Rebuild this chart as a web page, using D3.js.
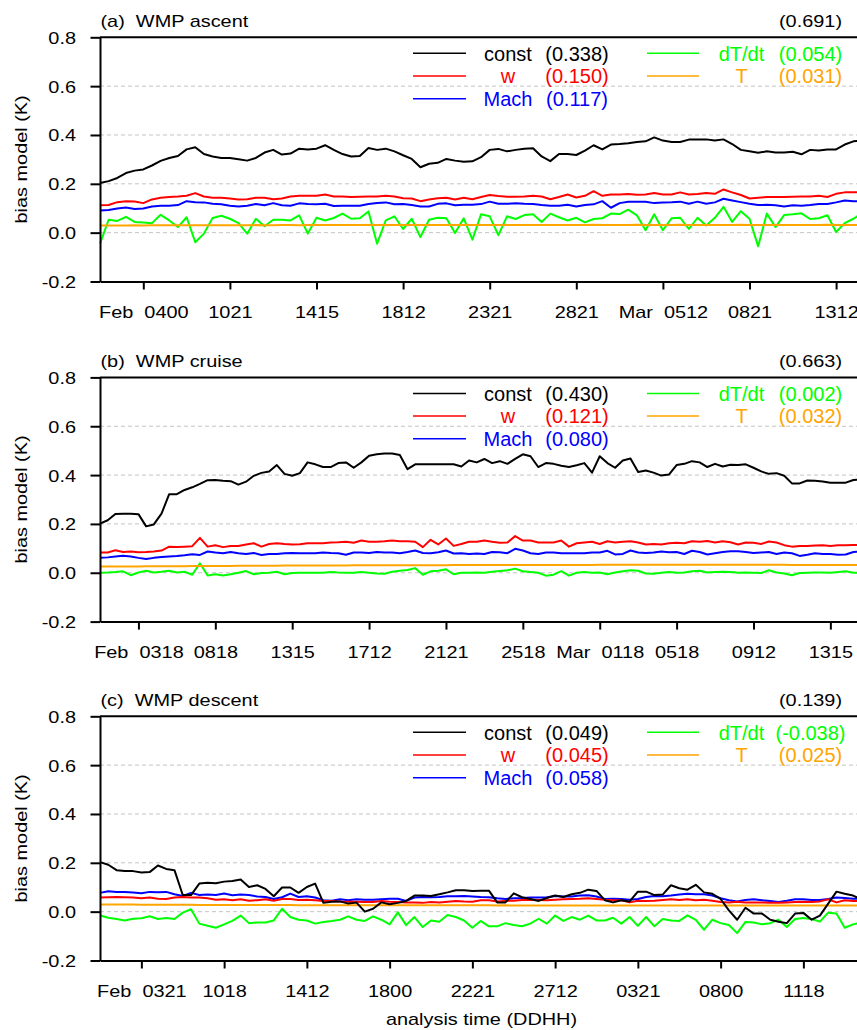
<!DOCTYPE html>
<html><head><meta charset="utf-8">
<script src="https://cdn.jsdelivr.net/npm/d3@7"></script>
<style>body{margin:0;background:#fff}svg{display:block}</style>
</head><body><svg id="chart" width="857" height="1030"></svg>
<script>
// ---------- shared ----------
const seriesNames = ["const", "w", "Mach", "dT/dt", "T"];
const seriesColors = ["#000000", "#ff0000", "#0000ff", "#00ff00", "#ffa500"];
const yTicks = [-0.2, 0, 0.2, 0.4, 0.6, 0.8];
const gridValues = [0, 0.2, 0.4, 0.6];
const xAxisTitle = "analysis time (DDHH)";
const yAxisTitle = "bias model (K)";

// ---------- panel (a) WMP ascent ----------
const titleA = "(a)  WMP ascent";
const totalA = "(0.691)";
const legendValuesA = ["(0.338)", "(0.150)", "(0.117)", "(0.054)", "(0.031)"];
const tickIndexA = [10, 30, 50, 70, 90, 110, 130, 150, 170];
const tickLabelsA = ["Feb  0400", "1021", "1415", "1812", "2321", "2821", "Mar  0512", "0821", "1312"];
const constA = [0.203,0.211,0.224,0.244,0.254,0.259,0.275,0.294,0.306,0.314,0.341,0.350,0.322,0.312,0.306,0.306,0.301,0.295,0.306,0.328,0.339,0.320,0.324,0.344,0.341,0.344,0.358,0.339,0.322,0.312,0.314,0.347,0.339,0.344,0.333,0.317,0.302,0.268,0.282,0.286,0.302,0.295,0.290,0.292,
 0.309,0.339,0.343,0.333,0.339,0.344,0.346,0.312,0.293,0.322,0.322,0.318,0.336,0.358,0.341,0.361,0.363,0.366,0.371,0.374,0.390,0.377,0.371,0.371,0.381,0.382,0.382,0.377,0.382,0.363,0.339,0.333,0.327,0.333,0.328,0.328,0.331,0.321,0.339,0.336,0.341,0.341,0.361,0.374,0.378];
const wA = [0.112,0.113,0.125,0.129,0.128,0.121,0.136,0.143,0.146,0.148,0.151,0.162,0.148,0.143,0.143,0.140,0.136,0.137,0.143,0.143,0.137,0.140,0.148,0.151,0.151,0.151,0.156,0.148,0.148,0.146,0.147,0.148,0.148,0.151,0.148,0.141,0.140,0.129,0.136,0.141,0.143,0.136,0.143,0.137,
 0.146,0.154,0.150,0.147,0.147,0.148,0.151,0.148,0.137,0.146,0.156,0.144,0.151,0.170,0.151,0.156,0.156,0.158,0.155,0.156,0.162,0.156,0.156,0.165,0.156,0.158,0.162,0.159,0.177,0.165,0.154,0.140,0.143,0.146,0.146,0.146,0.147,0.148,0.148,0.151,0.146,0.159,0.165,0.165,0.166];
const machA = [0.091,0.093,0.099,0.103,0.097,0.099,0.107,0.110,0.110,0.113,0.129,0.125,0.124,0.118,0.116,0.110,0.107,0.110,0.117,0.112,0.121,0.112,0.110,0.120,0.117,0.116,0.118,0.109,0.110,0.110,0.110,0.117,0.121,0.124,0.116,0.117,0.113,0.107,0.107,0.118,0.120,0.112,0.114,0.114,
 0.117,0.127,0.118,0.118,0.120,0.118,0.117,0.113,0.110,0.110,0.114,0.107,0.113,0.116,0.129,0.102,0.121,0.127,0.127,0.127,0.121,0.124,0.125,0.127,0.118,0.127,0.118,0.124,0.139,0.132,0.125,0.118,0.113,0.114,0.112,0.107,0.112,0.110,0.113,0.117,0.117,0.124,0.132,0.129,0.128];
const dtA = [-0.045,0.053,0.048,0.065,0.044,0.042,0.039,0.073,0.050,0.023,0.063,-0.039,-0.004,0.060,0.069,0.057,0.039,-0.004,0.057,0.026,0.053,0.053,0.050,0.071,-0.004,0.061,0.050,0.060,0.078,0.057,0.059,0.087,-0.045,0.050,0.067,0.015,0.057,-0.018,0.053,0.061,0.059,-0.001,0.059,-0.029,
 0.075,0.067,-0.010,0.067,0.056,0.072,0.075,0.044,0.078,0.063,0.050,0.061,0.042,0.056,0.059,0.078,0.076,0.094,0.071,0.010,0.075,0.010,0.059,0.061,0.015,0.061,0.029,0.061,0.106,0.044,0.088,0.057,-0.056,0.078,0.023,0.072,0.075,0.079,0.056,0.059,0.071,0.003,0.039,0.057,0.079];
const tA = [0.029,0.029,0.029,0.029,0.030,0.029,0.030,0.030,0.030,0.030,0.030,0.030,0.030,0.030,0.030,0.030,0.030,0.030,0.031,0.030,
 0.030,0.031,0.031,0.030,0.031,0.031,0.031,0.031,0.031,0.031,0.031,0.031,0.031,0.031,0.031,0.031,0.031,0.031,0.031,0.031,
 0.031,0.031,0.031,0.031,0.031,0.031,0.031,0.031,0.031,0.031,0.031,0.031,0.031,0.031,0.031,0.031,0.031,0.032,0.031,0.031,
 0.031,0.031,0.032,0.031,0.031,0.031,0.031,0.032,0.031,0.031,0.031,0.031,0.031,0.031,0.032,0.031,0.031,0.031,0.031,0.031,
 0.031,0.031,0.031,0.031,0.032,0.031,0.031,0.031,0.031];

// ---------- panel (b) WMP cruise ----------
const titleB = "(b)  WMP cruise";
const totalB = "(0.663)";
const legendValuesB = ["(0.430)", "(0.121)", "(0.080)", "(0.002)", "(0.032)"];
const tickIndexB = [10, 30, 50, 70, 90, 110, 130, 150, 170, 190];
const tickLabelsB = ["Feb  0318", "0818", "1315", "1712", "2121", "2518", "Mar  0118", "0518", "0912", "1315"];
const constB = [0.201,0.215,0.241,0.242,0.242,0.240,0.190,0.198,0.242,0.322,0.322,0.339,0.350,0.364,0.379,0.380,0.377,0.375,0.361,0.373,0.397,0.409,0.415,0.441,0.405,0.397,0.408,0.452,0.444,0.433,0.433,0.449,0.452,0.430,0.452,0.479,0.485,0.488,0.488,0.482,0.424,0.444,0.444,0.444,0.444,0.444,0.444,0.435,0.460,0.452,
 0.466,0.449,0.457,0.446,0.466,0.485,0.477,0.433,0.449,0.446,0.438,0.433,0.440,0.449,0.410,0.477,0.449,0.430,0.460,0.468,0.413,0.419,0.410,0.398,0.402,0.441,0.446,0.457,0.452,0.433,0.446,0.435,0.442,0.441,0.444,0.430,0.415,0.405,0.408,0.397,0.366,0.366,0.378,0.377,0.374,0.369,0.369,0.369,0.380,0.381];
const wB = [0.083,0.083,0.092,0.085,0.087,0.084,0.085,0.087,0.091,0.107,0.105,0.107,0.109,0.143,0.107,0.113,0.105,0.110,0.110,0.116,0.121,0.107,0.118,0.121,0.118,0.116,0.117,0.121,0.121,0.121,0.124,0.125,0.127,0.123,0.132,0.127,0.127,0.129,0.132,0.129,0.129,0.127,0.105,0.135,0.116,0.140,0.110,0.118,0.127,0.127,
 0.132,0.127,0.123,0.124,0.150,0.132,0.132,0.124,0.124,0.124,0.132,0.107,0.121,0.124,0.127,0.118,0.129,0.124,0.127,0.129,0.124,0.116,0.118,0.116,0.121,0.123,0.121,0.129,0.127,0.130,0.124,0.129,0.125,0.116,0.124,0.123,0.118,0.128,0.124,0.113,0.107,0.110,0.110,0.112,0.113,0.110,0.113,0.113,0.114,0.114];
const machB = [0.061,0.063,0.067,0.070,0.067,0.061,0.056,0.061,0.065,0.067,0.069,0.072,0.076,0.073,0.087,0.083,0.080,0.085,0.080,0.077,0.081,0.073,0.077,0.077,0.080,0.081,0.080,0.080,0.080,0.083,0.081,0.080,0.074,0.083,0.083,0.081,0.085,0.083,0.083,0.080,0.085,0.091,0.081,0.080,0.084,0.091,0.079,0.080,0.077,0.079,
 0.077,0.085,0.084,0.080,0.098,0.091,0.080,0.077,0.083,0.083,0.080,0.080,0.080,0.080,0.083,0.083,0.090,0.075,0.077,0.091,0.083,0.081,0.083,0.087,0.084,0.085,0.077,0.090,0.085,0.075,0.080,0.085,0.088,0.088,0.085,0.081,0.083,0.085,0.077,0.083,0.080,0.069,0.074,0.080,0.077,0.077,0.074,0.075,0.085,0.087];
const dtB = [0.000,0.001,0.003,0.006,-0.010,0.001,0.008,0.001,0.004,0.008,0.001,0.004,-0.008,0.039,-0.011,-0.006,-0.011,-0.006,0.000,0.007,-0.006,-0.001,0.000,0.004,-0.006,-0.001,0.000,0.000,0.000,0.000,0.003,0.001,0.000,0.000,0.003,0.000,-0.003,-0.004,0.004,0.008,0.011,0.019,-0.008,0.006,0.008,0.014,-0.006,0.000,0.000,0.001,
 0.000,0.004,0.007,0.010,0.017,0.006,0.003,0.000,-0.012,-0.008,0.007,-0.012,0.000,0.003,0.000,0.001,-0.006,0.001,0.006,0.010,0.008,-0.003,-0.004,0.000,0.003,0.000,0.001,0.006,0.008,0.001,0.003,0.004,0.003,0.000,0.001,0.000,-0.001,0.010,0.001,-0.003,-0.010,-0.001,0.000,0.001,0.001,0.000,0.003,0.006,0.000,0.000];
const tB = [0.026,0.026,0.026,0.026,0.026,0.026,0.027,0.027,0.027,0.027,0.027,0.027,0.028,0.028,0.028,0.028,0.028,0.028,0.029,0.029,
 0.029,0.029,0.029,0.029,0.030,0.030,0.030,0.030,0.030,0.030,0.030,0.030,0.030,0.031,0.031,0.031,0.031,0.031,0.031,0.031,
 0.031,0.031,0.031,0.031,0.031,0.031,0.032,0.032,0.032,0.032,0.032,0.032,0.032,0.032,0.032,0.032,0.032,0.032,0.032,0.032,
 0.032,0.032,0.032,0.032,0.032,0.033,0.033,0.033,0.033,0.033,0.033,0.033,0.033,0.033,0.033,0.033,0.033,0.033,0.033,0.033,
 0.033,0.033,0.033,0.033,0.033,0.033,0.033,0.033,0.033,0.033,0.032,0.032,0.032,0.032,0.032,0.032,0.032,0.032,0.032,0.032];

// ---------- panel (c) WMP descent ----------
const titleC = "(c)  WMP descent";
const totalC = "(0.139)";
const legendValuesC = ["(0.049)", "(0.045)", "(0.058)", "(-0.038)", "(0.025)"];
const tickIndexC = [10, 30, 50, 70, 90, 110, 130, 150, 170];
const tickLabelsC = ["Feb  0321", "1018", "1412", "1800", "2221", "2712", "0321", "0800", "1118"];
const constC = [0.203,0.192,0.170,0.167,0.166,0.160,0.162,0.189,0.175,0.170,0.068,0.068,0.115,0.118,0.116,0.123,0.126,0.132,0.101,0.108,0.093,0.063,0.099,0.099,0.077,0.101,0.115,0.036,0.041,0.042,0.033,0.037,0.000,0.012,0.038,0.030,0.036,0.044,0.066,0.066,0.064,0.071,0.079,0.088,0.088,0.085,
 0.086,0.086,0.038,0.038,0.075,0.059,0.052,0.044,0.056,0.066,0.060,0.071,0.077,0.090,0.085,0.047,0.038,0.047,0.042,0.082,0.082,0.068,0.070,0.108,0.096,0.090,0.110,0.079,0.073,0.052,0.005,-0.033,0.016,-0.008,-0.008,-0.033,-0.041,-0.047,-0.008,-0.005,-0.033,-0.016,0.033,0.082,0.073,0.066,0.050];
const wC = [0.058,0.059,0.060,0.059,0.058,0.055,0.058,0.053,0.052,0.058,0.060,0.058,0.058,0.055,0.049,0.051,0.047,0.051,0.045,0.047,0.051,0.045,0.052,0.052,0.048,0.049,0.047,0.044,0.044,0.042,0.041,0.041,0.040,0.040,0.044,0.041,0.040,0.038,0.038,0.036,0.040,0.038,0.041,0.044,0.042,0.041,
 0.047,0.047,0.042,0.044,0.045,0.048,0.049,0.048,0.047,0.049,0.051,0.052,0.053,0.055,0.052,0.049,0.047,0.047,0.038,0.045,0.044,0.045,0.048,0.051,0.048,0.051,0.047,0.049,0.045,0.040,0.038,0.041,0.038,0.038,0.038,0.036,0.036,0.038,0.040,0.041,0.040,0.042,0.051,0.038,0.047,0.044,0.044];
const machC = [0.077,0.084,0.081,0.081,0.078,0.075,0.081,0.079,0.081,0.071,0.064,0.077,0.068,0.070,0.068,0.074,0.067,0.070,0.068,0.062,0.060,0.052,0.059,0.074,0.060,0.063,0.058,0.047,0.045,0.051,0.047,0.051,0.049,0.049,0.051,0.053,0.053,0.044,0.058,0.060,0.059,0.060,0.063,0.063,0.064,0.062,
 0.060,0.059,0.055,0.052,0.055,0.056,0.058,0.058,0.059,0.064,0.062,0.062,0.066,0.067,0.062,0.052,0.053,0.052,0.049,0.052,0.060,0.064,0.063,0.066,0.070,0.073,0.071,0.071,0.066,0.055,0.047,0.042,0.048,0.051,0.047,0.044,0.040,0.045,0.051,0.051,0.048,0.048,0.052,0.058,0.056,0.053,0.052];
const dtC = [-0.016,-0.025,-0.030,-0.036,-0.029,-0.027,-0.019,-0.030,-0.026,-0.030,-0.004,0.010,-0.049,-0.058,-0.066,-0.052,-0.038,-0.016,-0.047,-0.044,-0.044,-0.036,0.012,-0.022,-0.033,-0.036,-0.049,-0.042,-0.038,-0.033,-0.019,-0.033,-0.038,-0.019,-0.033,-0.052,-0.003,-0.055,-0.022,-0.063,-0.036,-0.041,-0.014,-0.022,-0.036,-0.066,
 -0.038,-0.060,-0.060,-0.047,-0.055,-0.060,-0.049,-0.029,-0.049,-0.016,-0.038,-0.022,-0.033,-0.016,-0.036,-0.036,-0.025,-0.049,-0.022,-0.058,-0.022,-0.060,-0.030,-0.036,-0.038,-0.015,-0.034,-0.074,-0.033,-0.047,-0.055,-0.088,-0.042,-0.044,-0.052,-0.047,-0.033,-0.063,-0.030,-0.026,-0.030,-0.041,-0.004,-0.008,-0.066,-0.052,-0.045];
const tC = [0.029,0.029,0.029,0.029,0.029,0.028,0.028,0.028,0.028,0.028,0.028,0.028,0.027,0.027,0.027,0.027,0.027,0.027,0.027,0.027,
 0.027,0.027,0.027,0.027,0.026,0.026,0.026,0.026,0.026,0.026,0.026,0.026,0.026,0.026,0.026,0.026,0.026,0.026,0.026,0.026,
 0.026,0.026,0.026,0.026,0.026,0.026,0.026,0.026,0.025,0.026,0.025,0.025,0.025,0.025,0.025,0.025,0.025,0.025,0.025,0.025,
 0.025,0.025,0.025,0.025,0.025,0.025,0.025,0.025,0.025,0.025,0.025,0.025,0.025,0.025,0.025,0.025,0.025,0.025,0.025,0.025,
 0.025,0.025,0.025,0.025,0.025,0.025,0.025,0.025,0.025,0.025,0.025,0.025,0.025];

// ---------- drawing ----------
const FONT = '"Liberation Sans", Arial, Helvetica, sans-serif';
const svg = d3.select("#chart");
const W = 857;
const left = 100, plotH = 244.2, step = 2;
const smallSize = 17, smallSx = 1.17, legSize = 20;

function txt(g, x, y, s, o) {
  return g.append("text")
    .attr("transform", `translate(${x},${y})` + (o.rot ? ` rotate(${o.rot})` : "") + ` scale(${o.sx || 1},1)`)
    .attr("text-anchor", o.anchor || "start")
    .attr("font-family", FONT)
    .attr("font-size", o.size)
    .attr("fill", o.color || "#000")
    .style("white-space", "pre")
    .text(s);
}

const panels = [
  { title: titleA, total: totalA, legendValues: legendValuesA, ticks: tickIndexA, tickLabels: tickLabelsA,
    series: [constA, wA, machA, dtA, tA], top: 37.3, idxMax: 182, pxPerIdx: 4.33, xTitle: false },
  { title: titleB, total: totalB, legendValues: legendValuesB, ticks: tickIndexB, tickLabels: tickLabelsB,
    series: [constB, wB, machB, dtB, tB], top: 377.4, idxMax: 202, pxPerIdx: 3.844, xTitle: false },
  { title: titleC, total: totalC, legendValues: legendValuesC, ticks: tickIndexC, tickLabels: tickLabelsC,
    series: [constC, wC, machC, dtC, tC], top: 716.3, idxMax: 188, pxPerIdx: 4.1375, xTitle: true }
];

panels.forEach(p => {
  const g = svg.append("g");
  const x = d3.scaleLinear().domain([0, p.idxMax]).range([left, left + p.idxMax * p.pxPerIdx]);
  const y = d3.scaleLinear().domain([-0.2, 0.8]).range([p.top + plotH, p.top]);

  // dashed grid
  g.append("g").selectAll("line").data(gridValues).join("line")
    .attr("x1", left).attr("x2", W + 5)
    .attr("y1", d => y(d)).attr("y2", d => y(d))
    .attr("stroke", "#c4c4c4").attr("stroke-width", 1).attr("stroke-dasharray", "4,3");

  // series lines (draw order: dT/dt, T, Mach, w, const)
  const line = d3.line().x((d, i) => x(i * step)).y(d => y(d));
  [3, 4, 2, 1, 0].forEach(k => {
    g.append("path").datum(p.series[k])
      .attr("d", line)
      .attr("fill", "none")
      .attr("stroke", seriesColors[k])
      .attr("stroke-width", 2)
      .attr("stroke-linejoin", "round");
  });

  // top frame line
  g.append("line").attr("x1", left).attr("x2", W + 5).attr("y1", y(0.8)).attr("y2", y(0.8))
    .attr("stroke", "#000").attr("stroke-width", 2);

  // y axis
  const ya = g.append("g").attr("transform", `translate(${left},0)`)
    .call(d3.axisLeft(y).tickValues(yTicks).tickFormat(d => d.toFixed(1)).tickSize(9.5).tickSizeOuter(0));
  ya.select(".domain").attr("stroke-width", 2);
  ya.selectAll(".tick line").attr("stroke-width", 2);
  ya.selectAll(".tick text").attr("x", 0).attr("dy", null)
    .attr("transform", `translate(-24,6) scale(${smallSx},1)`)
    .attr("font-family", FONT).attr("font-size", smallSize).attr("fill", "#000");

  // x axis
  const xa = g.append("g").attr("transform", `translate(0,${y(-0.2)})`)
    .call(d3.axisBottom(x).tickValues(p.ticks).tickFormat((d, i) => p.tickLabels[i]).tickSize(8).tickSizeOuter(0));
  xa.select(".domain").attr("stroke-width", 2);
  xa.selectAll(".tick line").attr("stroke-width", 2);
  xa.selectAll(".tick text").attr("y", 0).attr("dy", null)
    .attr("transform", `translate(0,36.5) scale(${smallSx},1)`)
    .attr("font-family", FONT).attr("font-size", smallSize).attr("fill", "#000")
    .style("white-space", "pre");

  // titles
  txt(g, 100.5, p.top - 10.5, p.title, { size: smallSize, sx: smallSx });
  txt(g, 810.5, p.top - 10.5, p.total, { size: smallSize, sx: smallSx, anchor: "middle" });

  // y axis title
  txt(g, 27, p.top + plotH / 2, yAxisTitle, { size: smallSize, sx: smallSx, anchor: "middle", rot: -90 });

  // legend
  seriesNames.forEach((name, j) => {
    const col = j < 3 ? 0 : 1;
    const row = j < 3 ? j : j - 3;
    const ly = p.top + 16 + row * 22.7;
    const lx1 = col ? 647 : 413, lx2 = col ? 699 : 466;
    g.append("line").attr("x1", lx1).attr("x2", lx2).attr("y1", ly).attr("y2", ly)
      .attr("stroke", seriesColors[j]).attr("stroke-width", 1.5);
    txt(g, col ? 741.5 : 508, ly + 7.2, name, { size: legSize, anchor: "middle", color: seriesColors[j] });
    txt(g, col ? 810.5 : 577, ly + 7.2, p.legendValues[j], { size: legSize, anchor: "middle", color: seriesColors[j] });
  });

  if (p.xTitle) {
    txt(g, 481.5, 1025, xAxisTitle, { size: smallSize, sx: smallSx, anchor: "middle" });
  }
});
</script>
</body></html>
